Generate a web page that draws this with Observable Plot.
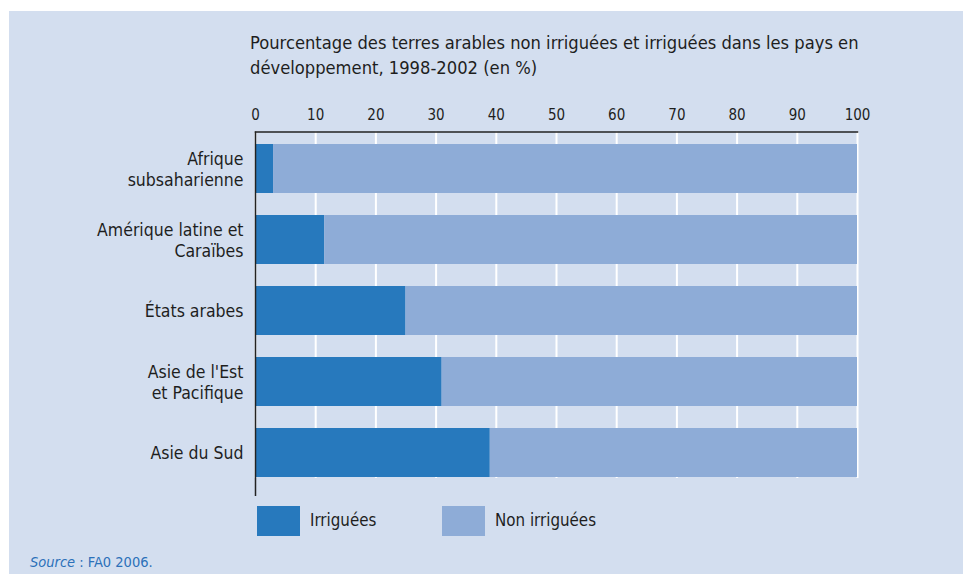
<!DOCTYPE html>
<html>
<head>
<meta charset="utf-8">
<script src="https://cdn.jsdelivr.net/npm/d3@7"></script>
<script src="https://cdn.jsdelivr.net/npm/@observablehq/plot@0.6"></script>
<style>
  html, body { margin: 0; padding: 0; background: #ffffff; }
  body { width: 963px; height: 574px; position: relative; overflow: hidden;
         font-family: "DejaVu Sans Condensed", sans-serif; color: #1e1e1e; }
  #panel { position: absolute; left: 9px; top: 11px; width: 954px; height: 563px; background: #d3deef; }
  #title { position: absolute; left: 250px; top: 30px; font-size: 18.2px; line-height: 25px; color: #1e1e1e; white-space: nowrap; }
  #chart { position: absolute; left: 0; top: 0; }
  .sw { position: absolute; width: 43px; height: 30px; }
  .lt { position: absolute; font-size: 16.8px; line-height: 20px; color: #1e1e1e; }
  #source { position: absolute; left: 30px; top: 554px; font-size: 14.5px; color: #2b70b9; white-space: nowrap; }
</style>
</head>
<body>
<div id="panel"></div>
<div id="title"></div>
<div id="chart"></div>
<div id="legend"></div>
<div id="source"></div>
<script>
const categories = ["Afrique\nsubsaharienne", "Amérique latine et\nCaraïbes", "États arabes", "Asie de l'Est\net Pacifique", "Asie du Sud"];
const irriguees = [3, 11.5, 25, 31, 39];
const nonIrriguees = [97, 88.5, 75, 69, 61];
const seriesNames = ["Irriguées", "Non irriguées"];
const seriesColors = ["#2779bd", "#8eacd7"];
const xTicks = [0, 10, 20, 30, 40, 50, 60, 70, 80, 90, 100];
const titleLines = ["Pourcentage des terres arables non irriguées et irriguées dans les pays en", "développement, 1998-2002 (en %)"];
const sourceLabel = "Source";
const sourceText = " : FA0 2006.";

document.getElementById("title").innerHTML = titleLines.join("<br>");
document.getElementById("source").innerHTML = "<i>" + sourceLabel + "</i>" + sourceText;

const rows = [];
categories.forEach((c, i) => {
  rows.push({cat: c, serie: seriesNames[0], value: irriguees[i]});
  rows.push({cat: c, serie: seriesNames[1], value: nonIrriguees[i]});
});

const chart = Plot.plot({
  width: 963,
  height: 496,
  marginLeft: 255,
  marginRight: 106,
  marginTop: 131.5,
  marginBottom: 0,
  style: {background: "transparent", fontFamily: '"DejaVu Sans Condensed", sans-serif', color: "#1e1e1e"},
  x: {domain: [0, 100], ticks: xTicks, axis: null, label: null},
  y: {domain: categories, range: [131.5, 489], paddingInner: 0.316, paddingOuter: 0.158, axis: null, label: null},
  color: {domain: seriesNames, range: seriesColors},
  marks: [
    Plot.gridX(xTicks, {stroke: "#ffffff", strokeOpacity: 1, strokeWidth: 2, insetBottom: 18}),
    Plot.barX(rows, Plot.stackX({y: "cat", x: "value", fill: "serie", order: seriesNames})),
    Plot.ruleX([0], {stroke: "#222", strokeWidth: 1.5}),
    Plot.frame({anchor: "top", stroke: "#222", strokeWidth: 1.5}),
    Plot.axisX(xTicks, {anchor: "top", label: null, tickSize: 0, tickPadding: 12, fontSize: 15, tickFormat: d => String(d), fill: "#1e1e1e"}),
    Plot.text(categories, {y: d => d, text: d => d, frameAnchor: "left", textAnchor: "end", dx: -12, fontSize: 17.5, lineHeight: 1.15, fill: "#1e1e1e"})
  ]
});
document.getElementById("chart").appendChild(chart);

const legend = document.getElementById("legend");
const legendX = [257, 442];
seriesNames.forEach((s, i) => {
  const sw = document.createElement("div");
  sw.className = "sw";
  sw.style.left = legendX[i] + "px";
  sw.style.top = "506px";
  sw.style.background = seriesColors[i];
  legend.appendChild(sw);
  const t = document.createElement("div");
  t.className = "lt";
  t.style.left = (legendX[i] + 53) + "px";
  t.style.top = "510px";
  t.textContent = s;
  legend.appendChild(t);
});
</script>
</body>
</html>
